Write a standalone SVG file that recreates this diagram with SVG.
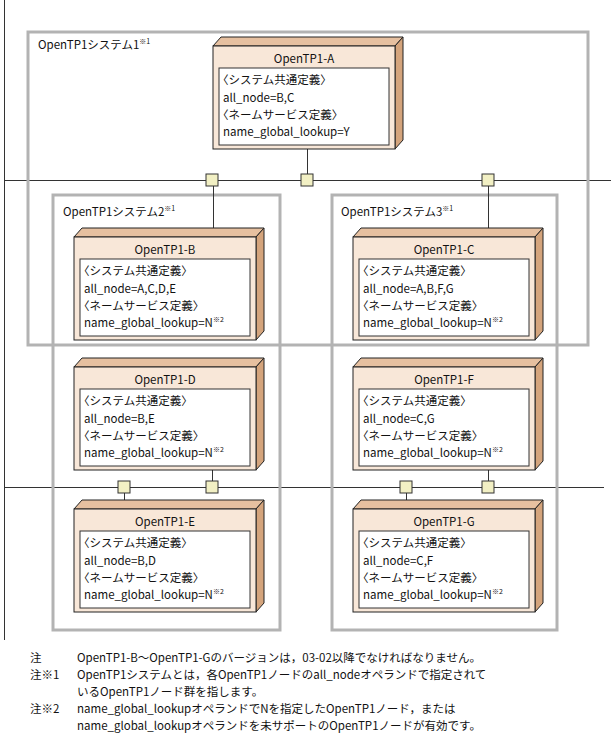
<svg xmlns="http://www.w3.org/2000/svg" width="611" height="736" viewBox="0 0 611 736">
<style>
text{font-family:"Noto Sans CJK JP","Liberation Sans",sans-serif;font-size:11.5px;fill:#111}
.sup{font-size:7px}
.sys{fill:none;stroke:#b3b3b3;stroke-width:3}
.ln{stroke:#333;stroke-width:1;fill:none}
.front{fill:#f8e7d8;stroke:#222;stroke-width:1}
.top{fill:#e6c0a0;stroke:#222;stroke-width:1}
.side{fill:#d4a47c;stroke:#222;stroke-width:1}
.inner{fill:#fff;stroke:#333;stroke-width:1}
.sq{fill:#f2f0c4;stroke:#333;stroke-width:1}
.t{text-anchor:middle}
</style>
<defs>
<g id="box">
<polygon class="top" points="0,0 8,-9 190,-9 182,0"/>
<polygon class="side" points="182,0 190,-9 190,94 182,103"/>
<rect class="front" x="0" y="0" width="182" height="103"/>
<rect class="inner" x="6" y="22" width="170" height="77"/>
</g>
</defs>
<g id="frame">
<line class="ln" x1="4.5" y1="0" x2="4.5" y2="640"/>
<line class="ln" x1="4" y1="180.5" x2="611" y2="180.5"/>
<line class="ln" x1="4" y1="487.5" x2="604" y2="487.5"/>
</g>
<g id="sys1"><rect class="sys" x="28" y="32" width="560" height="313"/><text x="38" y="49">OpenTP1システム1<tspan class="sup" dy="-5">※1</tspan></text></g>
<g id="sys2"><rect class="sys" x="53" y="195" width="227" height="435"/><text x="63" y="216">OpenTP1システム2<tspan class="sup" dy="-5">※1</tspan></text></g>
<g id="sys3"><rect class="sys" x="332" y="195" width="225" height="435"/><text x="341" y="216">OpenTP1システム3<tspan class="sup" dy="-5">※1</tspan></text></g>
<g id="connectors">
<line class="ln" x1="307.5" y1="149" x2="307.5" y2="180"/>
<line class="ln" x1="213.5" y1="180" x2="213.5" y2="228"/>
<line class="ln" x1="488.5" y1="180" x2="488.5" y2="228"/>
<line class="ln" x1="212.5" y1="470" x2="212.5" y2="487"/>
<line class="ln" x1="124.5" y1="487" x2="124.5" y2="500"/>
<line class="ln" x1="488.5" y1="470" x2="488.5" y2="487"/>
<line class="ln" x1="406.5" y1="487" x2="406.5" y2="500"/>
<rect class="sq" x="206" y="174" width="12" height="12"/>
<rect class="sq" x="301" y="174" width="12" height="12"/>
<rect class="sq" x="482" y="174" width="12" height="12"/>
<rect class="sq" x="118" y="481" width="12" height="12"/>
<rect class="sq" x="206" y="481" width="12" height="12"/>
<rect class="sq" x="400" y="481" width="12" height="12"/>
<rect class="sq" x="482" y="481" width="12" height="12"/>
</g>
<g id="nodeA" transform="translate(213,46)"><use href="#box"/><text class="t" x="91" y="17">OpenTP1-A</text><text x="4" y="38">〈システム共通定義〉</text><text x="10" y="56">all_node=B,C</text><text x="4" y="73">〈ネームサービス定義〉</text><text x="10" y="90">name_global_lookup=Y</text></g>
<g id="nodeB" transform="translate(74,237)"><use href="#box"/><text class="t" x="91" y="17">OpenTP1-B</text><text x="4" y="38">〈システム共通定義〉</text><text x="10" y="56">all_node=A,C,D,E</text><text x="4" y="73">〈ネームサービス定義〉</text><text x="10" y="90">name_global_lookup=N<tspan class="sup" dy="-5">※2</tspan></text></g>
<g id="nodeC" transform="translate(353,237)"><use href="#box"/><text class="t" x="91" y="17">OpenTP1-C</text><text x="4" y="38">〈システム共通定義〉</text><text x="10" y="56">all_node=A,B,F,G</text><text x="4" y="73">〈ネームサービス定義〉</text><text x="10" y="90">name_global_lookup=N<tspan class="sup" dy="-5">※2</tspan></text></g>
<g id="nodeD" transform="translate(74,367)"><use href="#box"/><text class="t" x="91" y="17">OpenTP1-D</text><text x="4" y="38">〈システム共通定義〉</text><text x="10" y="56">all_node=B,E</text><text x="4" y="73">〈ネームサービス定義〉</text><text x="10" y="90">name_global_lookup=N<tspan class="sup" dy="-5">※2</tspan></text></g>
<g id="nodeF" transform="translate(353,367)"><use href="#box"/><text class="t" x="91" y="17">OpenTP1-F</text><text x="4" y="38">〈システム共通定義〉</text><text x="10" y="56">all_node=C,G</text><text x="4" y="73">〈ネームサービス定義〉</text><text x="10" y="90">name_global_lookup=N<tspan class="sup" dy="-5">※2</tspan></text></g>
<g id="nodeE" transform="translate(74,509)"><use href="#box"/><text class="t" x="91" y="17">OpenTP1-E</text><text x="4" y="38">〈システム共通定義〉</text><text x="10" y="56">all_node=B,D</text><text x="4" y="73">〈ネームサービス定義〉</text><text x="10" y="90">name_global_lookup=N<tspan class="sup" dy="-5">※2</tspan></text></g>
<g id="nodeG" transform="translate(353,509)"><use href="#box"/><text class="t" x="91" y="17">OpenTP1-G</text><text x="4" y="38">〈システム共通定義〉</text><text x="10" y="56">all_node=C,F</text><text x="4" y="73">〈ネームサービス定義〉</text><text x="10" y="90">name_global_lookup=N<tspan class="sup" dy="-5">※2</tspan></text></g>
<g id="notes">
<text x="30" y="662">注</text><text x="77" y="662">OpenTP1-B～OpenTP1-Gのバージョンは，03-02以降でなければなりません。</text>
<text x="30" y="679">注※1</text><text x="77" y="679">OpenTP1システムとは，各OpenTP1ノードのall_nodeオペランドで指定されて</text>
<text x="77" y="696">いるOpenTP1ノード群を指します。</text>
<text x="30" y="713">注※2</text><text x="77" y="713">name_global_lookupオペランドでNを指定したOpenTP1ノード，または</text>
<text x="77" y="730">name_global_lookupオペランドを未サポートのOpenTP1ノードが有効です。</text>
</g>
</svg>
